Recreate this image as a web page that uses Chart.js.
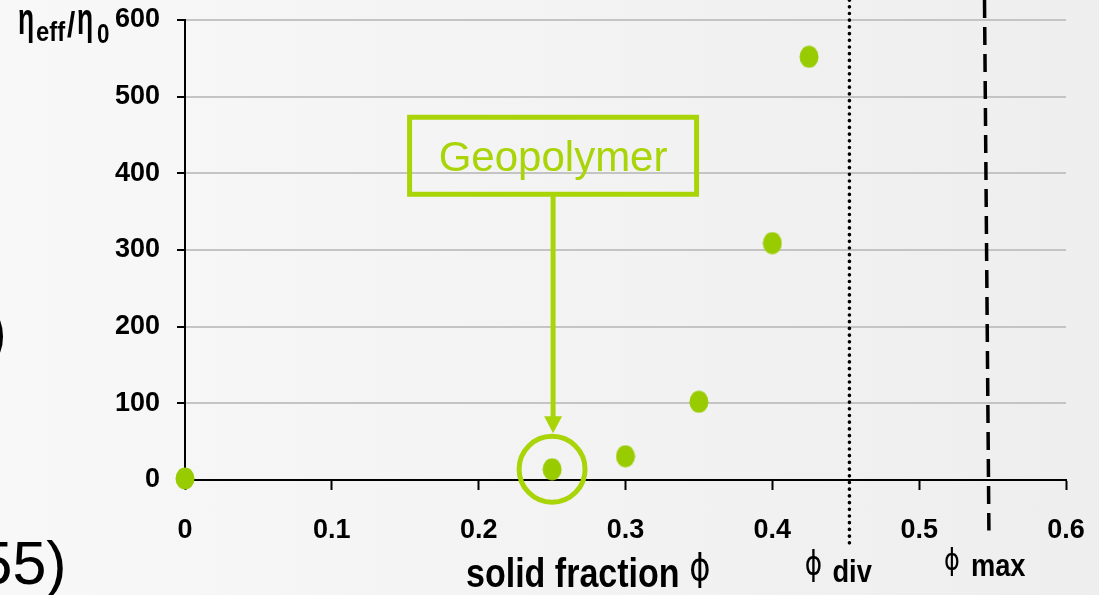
<!DOCTYPE html>
<html>
<head>
<meta charset="utf-8">
<script src="https://cdn.jsdelivr.net/npm/chart.js@4.4.1/dist/chart.umd.min.js"></script>
<style>
  html, body { margin: 0; padding: 0; width: 1099px; height: 595px; overflow: hidden;
    background: linear-gradient(to right, #f8f8f8, #eeeeee); }
  #wrap { position: relative; width: 1099px; height: 595px; }
  canvas { display: block; }
</style>
</head>
<body>
<div id="wrap"><canvas id="chart" width="1099" height="595"></canvas></div>
<script>
// Relative viscosity of the suspension against its solid volume fraction
const solidFraction  = [0, 0.25, 0.3, 0.35, 0.4, 0.425];
const viscosityRatio = [2, 14, 31, 102, 309, 552];

// Axis ticks
const xTickValues = [0, 0.1, 0.2, 0.3, 0.4, 0.5, 0.6];
const yTickValues = [0, 100, 200, 300, 400, 500, 600];

// Characteristic fractions: divergence (dotted) and maximum packing (dashed, drawn leaning slightly)
const phiDiv = [0.4525, 0.4525];
const phiMax = [0.5445, 0.5475];

const GREEN = '#99cc00';
const CALLOUT = '#a8d408';

// Slightly tall round marker
const marker = document.createElement('canvas');
marker.width = 20; marker.height = 23;
(function () {
  const c = marker.getContext('2d');
  c.fillStyle = GREEN;
  c.beginPath();
  c.ellipse(10, 11.5, 9.5, 11, 0, 0, Math.PI * 2);
  c.fill();
})();

function drawText(ctx, text, x, y, font, sx, color, align) {
  ctx.save();
  ctx.font = font;
  ctx.fillStyle = color || '#000';
  ctx.textAlign = align || 'left';
  ctx.textBaseline = 'alphabetic';
  ctx.translate(x, y);
  ctx.scale(sx || 1, 1);
  ctx.fillText(text, 0, 0);
  ctx.restore();
}

// Geopolymer callout: ring around the point, box with label and arrow
const callout = {
  id: 'callout',
  afterDatasetsDraw(chart) {
    const { ctx, scales: { x, y } } = chart;
    const px = x.getPixelForValue(solidFraction[1]);
    const py = y.getPixelForValue(viscosityRatio[1]);
    ctx.save();
    ctx.strokeStyle = CALLOUT;
    ctx.fillStyle = CALLOUT;
    ctx.lineWidth = 5;
    ctx.beginPath();
    ctx.arc(px, py, 33, 0, Math.PI * 2);
    ctx.stroke();

    const bx = px + 1;
    ctx.strokeRect(bx - 143.5, py - 352, 287, 77);
    ctx.beginPath();
    ctx.moveTo(bx, py - 273);
    ctx.lineTo(bx, py - 52);
    ctx.stroke();
    ctx.beginPath();
    ctx.moveTo(bx - 9, py - 53);
    ctx.lineTo(bx + 9, py - 53);
    ctx.lineTo(bx, py - 36);
    ctx.closePath();
    ctx.fill();
    ctx.restore();
    drawText(ctx, 'Geopolymer', bx, py - 298, '42px "Liberation Sans", Arial, sans-serif', 1, CALLOUT, 'center');
  },
  afterDraw(chart) {
    const { ctx, scales: { x } } = chart;
    const bold = (s) => 'bold ' + s + 'px "Liberation Sans", Arial, sans-serif';
    const phiFont = (s) => s + 'px "DejaVu Sans", sans-serif';

    // y-axis title  η_eff / η_0
    drawText(ctx, 'η', 18, 34, bold(44), 0.6);
    drawText(ctx, 'eff', 36, 41, bold(27), 0.88);
    drawText(ctx, '/', 67, 37, bold(35), 0.85);
    drawText(ctx, 'η', 77, 34, bold(44), 0.6);
    drawText(ctx, '0', 97, 43, bold(28), 0.8);

    // x-axis title
    drawText(ctx, 'solid fraction', 466, 587, bold(41), 0.83);
    drawText(ctx, 'ϕ', 700, 580, phiFont(38), 0.85, '#000', 'center');

    // labels of the characteristic fractions
    const xd = x.getPixelForValue(phiDiv[1]);
    const xm = x.getPixelForValue(phiMax[1]);
    drawText(ctx, 'ϕ', xd - 36, 575, phiFont(33), 0.8, '#000', 'center');
    drawText(ctx, 'div', xd - 17, 582, bold(31), 0.88);
    drawText(ctx, 'ϕ', xm - 37, 570, phiFont(30), 0.8, '#000', 'center');
    drawText(ctx, 'max', xm - 18, 576, bold(31), 0.88);

    // neighbouring slide text running into the chart
    drawText(ctx, ')', -13.5, 352, '61px "Liberation Sans", Arial, sans-serif', 1);
    drawText(ctx, '55)', -21.5, 584, '61px "Liberation Sans", Arial, sans-serif', 1);
  }
};

const tickFont = { family: '"Liberation Sans", Arial, sans-serif', size: 27, weight: 'bold' };

new Chart(document.getElementById('chart'), {
  type: 'scatter',
  data: {
    datasets: [
      {
        label: 'Geopolymer',
        data: solidFraction.map((v, i) => ({ x: v, y: viscosityRatio[i] })),
        pointStyle: marker,
        pointRadius: 10,
        clip: false
      },
      {
        label: 'ϕ div',
        data: [{ x: phiDiv[0], y: 626 }, { x: phiDiv[1], y: -85 }],
        showLine: true,
        borderColor: '#000',
        borderWidth: 3.6,
        borderDash: [0.1, 6.6],
        borderCapStyle: 'round',
        pointRadius: 0,
        clip: false
      },
      {
        label: 'ϕ max',
        data: [{ x: phiMax[0], y: 626 }, { x: phiMax[1], y: -66 }],
        showLine: true,
        borderColor: '#000',
        borderWidth: 3.5,
        borderDash: [18, 9],
        pointRadius: 0,
        clip: false
      }
    ]
  },
  options: {
    responsive: false,
    animation: false,
    devicePixelRatio: 1,
    layout: { padding: { left: 0, top: 20, right: 33, bottom: 0 } },
    plugins: { legend: { display: false }, tooltip: { enabled: false } },
    scales: {
      x: {
        type: 'linear',
        min: 0,
        max: 0.6,
        afterBuildTicks: (s) => { s.ticks = xTickValues.map(v => ({ value: v })); },
        afterFit: (s) => { s.height = 115; s.paddingLeft = 0; s.paddingRight = 0; },
        ticks: {
          font: tickFont,
          color: '#000',
          padding: 24,
          callback: (v) => String(Number(v.toFixed(1)))
        },
        grid: { drawOnChartArea: false, tickLength: 10, tickColor: '#000', tickWidth: 2 },
        border: { color: '#000', width: 2 }
      },
      y: {
        type: 'linear',
        min: 0,
        max: 600,
        afterBuildTicks: (s) => { s.ticks = yTickValues.map(v => ({ value: v })); },
        afterFit: (s) => { s.width = 185; s.paddingTop = 0; s.paddingBottom = 0; },
        ticks: { font: tickFont, color: '#000', padding: 17 },
        grid: { color: '#c4c4c4', lineWidth: 2, tickLength: 8, tickColor: '#000', tickWidth: 2 },
        border: { color: '#000', width: 2 }
      }
    }
  },
  plugins: [callout]
});
</script>
</body>
</html>
